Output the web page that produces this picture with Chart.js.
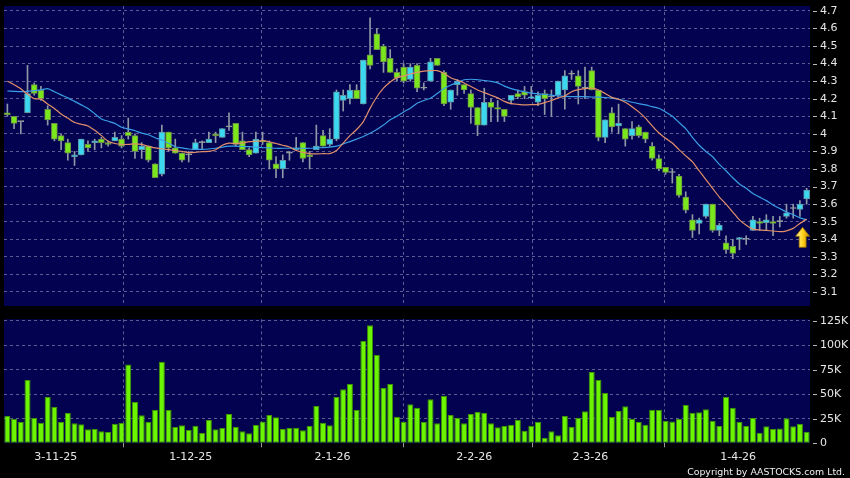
<!DOCTYPE html>
<html><head><meta charset="utf-8">
<script src="https://cdn.jsdelivr.net/npm/chart.js@4.4.1/dist/chart.umd.min.js"></script>
<style>
html,body{margin:0;padding:0;background:#000;width:850px;height:478px;overflow:hidden}
#wrap{position:relative;width:850px;height:478px;background:#000}
canvas{position:absolute;left:0}
#c1{top:0}
#c2{top:310px}
#copy{position:absolute;right:5px;top:465px;color:#f0f0f0;font:9.4px "DejaVu Sans",sans-serif;white-space:nowrap;line-height:13px}
</style></head><body>
<div id="wrap">
<canvas id="c2" width="850" height="168"></canvas>
<canvas id="c1" width="850" height="320"></canvas>
<div id="copy">Copyright by AASTOCKS.com Ltd.</div>
</div>
<script>
// ---- data ----
const openP = [4.12,4.10,4.07,4.12,4.28,4.25,4.14,4.06,3.99,3.95, 3.87,3.88,3.94,3.95,3.97,3.95,3.96,3.97,4.01,3.99,
 3.91,3.93,3.83,3.77,4.01,3.92,3.89,3.88,3.91,3.95, 3.95,4.00,3.98,4.04,4.06,3.96,3.91,3.89,3.96,3.95,
 3.83,3.80,3.89,3.91,3.95,3.88,3.91,3.99,3.94,3.97, 4.19,4.20,4.25,4.17,4.45,4.57,4.50,4.43,4.35,4.38,
 4.31,4.39,4.26,4.30,4.43,4.35,4.18,4.28,4.28,4.23, 4.15,4.05,4.18,4.15,4.14,4.19,4.23,4.24,4.205,4.18,
 4.23,4.21,4.22,4.25,4.34,4.33,4.26,4.36,4.25,3.98, 4.12,4.045,4.03,3.99,4.04,4.01,3.93,3.86,3.81,3.78,
 3.76,3.64,3.51,3.49,3.53,3.60,3.45,3.38,3.36,3.40, 3.40,3.45,3.50,3.495,3.50,3.50,3.53,3.575,3.57,3.63];
const highP = [4.17,4.10,4.07,4.39,4.29,4.27,4.16,4.06,4.00,3.97, 3.90,3.97,3.96,3.97,3.98,3.96,4.01,3.99,4.09,4.00,
 3.95,3.93,3.83,4.05,4.01,3.97,3.89,3.90,3.97,3.96, 4.01,4.01,4.03,4.12,4.06,4.01,3.92,4.01,4.01,3.96,
 3.87,3.88,3.90,3.98,3.95,3.90,4.05,4.02,4.03,4.25, 4.25,4.28,4.28,4.42,4.66,4.60,4.51,4.48,4.37,4.40,
 4.40,4.40,4.29,4.43,4.43,4.36,4.25,4.31,4.28,4.25, 4.15,4.26,4.20,4.19,4.14,4.22,4.25,4.27,4.27,4.24,
 4.25,4.25,4.30,4.36,4.36,4.36,4.38,4.38,4.25,4.08, 4.15,4.17,4.03,4.07,4.05,4.01,3.95,3.88,3.81,3.80,
 3.77,3.67,3.54,3.52,3.60,3.60,3.49,3.42,3.40,3.41, 3.42,3.53,3.52,3.54,3.53,3.53,3.60,3.60,3.62,3.69];
const lowP = [4.10,4.03,4.00,4.12,4.22,4.19,4.05,3.96,3.91,3.85, 3.82,3.88,3.90,3.91,3.92,3.93,3.96,3.92,3.97,3.86,
 3.86,3.84,3.75,3.76,3.90,3.89,3.84,3.84,3.91,3.91, 3.95,3.95,3.98,4.02,3.93,3.91,3.87,3.89,3.94,3.80,
 3.75,3.75,3.85,3.91,3.84,3.80,3.91,3.93,3.93,3.96, 4.13,4.17,4.20,4.17,4.37,4.48,4.35,4.35,4.30,4.29,
 4.30,4.24,4.25,4.30,4.39,4.16,4.14,4.22,4.23,4.06, 3.99,4.05,4.07,4.07,4.07,4.17,4.20,4.20,4.20,4.16,
 4.11,4.10,4.21,4.14,4.31,4.17,4.20,4.25,3.96,3.95, 4.01,4.00,3.93,3.97,3.98,3.95,3.85,3.79,3.77,3.72,
 3.64,3.55,3.41,3.43,3.52,3.44,3.42,3.32,3.29,3.34, 3.37,3.45,3.45,3.45,3.42,3.47,3.52,3.52,3.53,3.60];
const closeP = [4.11,4.06,4.07,4.23,4.23,4.20,4.08,3.97,3.96,3.89, 3.88,3.97,3.92,3.96,3.95,3.94,3.98,3.93,3.99,3.90,
 3.93,3.85,3.75,4.01,3.92,3.89,3.85,3.88,3.95,3.95, 3.97,3.99,4.03,4.04,3.94,3.91,3.88,3.97,3.955,3.85,
 3.80,3.85,3.89,3.92,3.86,3.87,3.93,3.93,3.97,4.24, 4.22,4.25,4.20,4.42,4.39,4.48,4.41,4.35,4.32,4.30,
 4.38,4.26,4.26,4.41,4.39,4.17,4.25,4.30,4.25,4.15, 4.05,4.18,4.15,4.14,4.10,4.22,4.21,4.22,4.21,4.22,
 4.20,4.21,4.30,4.33,4.34,4.27,4.26,4.25,3.98,4.08, 4.04,4.06,3.97,4.03,3.99,3.97,3.86,3.80,3.78,3.78,
 3.65,3.565,3.45,3.51,3.60,3.45,3.48,3.34,3.32,3.41, 3.40,3.51,3.49,3.51,3.49,3.50,3.55,3.575,3.60,3.68];
const maShort = [4.30,4.28,4.257,4.225,4.20,4.198,4.17,4.145,4.113,4.09, 4.065,4.055,4.045,4.02,3.99,3.958,3.945,3.94,3.94,3.943,
 3.94,3.93,3.92,3.915,3.91,3.905,3.90,3.893,3.895,3.899, 3.90,3.91,3.935,3.947,3.945,3.948,3.956,3.958,3.961,3.955,
 3.945,3.935,3.925,3.905,3.895,3.888,3.886,3.887,3.888,3.905, 3.947,3.99,4.025,4.07,4.145,4.21,4.26,4.295,4.32,4.33,
 4.341,4.35,4.357,4.36,4.36,4.345,4.32,4.305,4.29,4.27, 4.25,4.235,4.22,4.205,4.185,4.172,4.168,4.165,4.166,4.168,
 4.178,4.19,4.205,4.215,4.24,4.252,4.258,4.26,4.25,4.23, 4.208,4.197,4.18,4.155,4.125,4.09,4.045,4.005,3.975,3.948,
 3.91,3.875,3.84,3.79,3.74,3.69,3.64,3.60,3.555,3.51, 3.48,3.458,3.453,3.45,3.447,3.443,3.448,3.462,3.49,3.515];
const maLong = [4.244,4.242,4.24,4.242,4.246,4.25,4.258,4.24,4.222,4.205, 4.185,4.165,4.145,4.115,4.085,4.072,4.06,4.038,4.028,4.018,
 4.004,3.995,3.978,3.965,3.947,3.927,3.92,3.914,3.912,3.912, 3.914,3.918,3.925,3.93,3.93,3.928,3.927,3.925,3.922,3.92,
 3.918,3.918,3.918,3.918,3.918,3.918,3.92,3.922,3.925,3.93, 3.943,3.956,3.97,3.985,4.003,4.025,4.05,4.08,4.10,4.125,
 4.146,4.174,4.19,4.203,4.23,4.258,4.277,4.293,4.308,4.311, 4.308,4.304,4.299,4.29,4.272,4.258,4.248,4.24,4.232,4.228,
 4.224,4.221,4.216,4.213,4.212,4.212,4.212,4.21,4.209,4.207, 4.203,4.197,4.19,4.18,4.172,4.165,4.155,4.146,4.125,4.10,
 4.065,4.03,3.98,3.935,3.90,3.87,3.826,3.79,3.75,3.715, 3.69,3.66,3.64,3.62,3.595,3.575,3.555,3.54,3.522,3.51];
const volume = [27900,25200,21800,64600,25900,21100,47600,37100,21800,31000, 20400,19400,14300,14600,12200,11600,20100,20700,80600,42200,
 28600,21800,34000,83300,34000,16700,18400,13600,18000,10500, 23800,14300,15600,29900,17000,12200,10200,18700,22400,28900,
 26500,14600,15600,16000,13300,17700,38100,21100,18400,47300, 55100,60500,34000,104800,120700,90100,56500,60500,27200,22100,
 39800,36400,22000,44900,20400,48300,28900,26200,20400,29900, 32300,31300,20400,16300,17700,18700,23800,12900,18000,22100,
 5400,12200,8200,27900,17000,26200,32700,72800,64600,51400, 26900,33000,37800,25200,21800,19000,34400,34000,22800,22400,
 24800,39100,31300,31600,34700,23100,18000,47600,36400,21800, 17700,25900,10900,17300,14600,15000,25500,17300,19700,11900];
const dateLabels = ['3-11-25','1-12-25','2-1-26','2-2-26','2-3-26','1-4-26'];
const dateBarPos = [7.2, 27.3, 48.4, 69.5, 86.8, 108.8];
const priceTicks = [3.1,3.2,3.3,3.4,3.5,3.6,3.7,3.8,3.9,4.0,4.1,4.2,4.3,4.4,4.5,4.6,4.7];
const volumeTicks = [0,25000,50000,75000,100000,125000];
const signal = {index: 118.4, price: 3.468};

// ---- styles ----
const NAVY = '#020250', GRID = '#5c5c92', TXT = '#e6e6e6';
const UP = '#3bd8f0', DOWN = '#7ae61c', FLAT = '#9aa89a';
const FONT = {family: '"DejaVu Sans", sans-serif', size: 11, lineHeight: 1};

const n = openP.length;
const idx = openP.map((_, i) => i);
const bodyData = idx.map(i => ({x: i, y: [Math.min(openP[i], closeP[i]), Math.max(openP[i], closeP[i])]}));
const wickData = idx.map(i => ({x: i, y: [lowP[i], highP[i]]}));
const bodyColor = idx.map(i => closeP[i] > openP[i] ? UP : (closeP[i] < openP[i] ? DOWN : FLAT));
const bodyBorder = idx.map(i => closeP[i] > openP[i] ? '#5d97a4' : (closeP[i] < openP[i] ? '#6d8e48' : '#9aa0a0'));

const plotBg = {id: 'plotBg', beforeDraw(chart) {
  const {ctx, chartArea: a} = chart;
  ctx.save(); ctx.fillStyle = NAVY;
  ctx.fillRect(a.left, a.top, a.right - a.left, a.bottom - a.top);
  ctx.restore();
}};
const yTickMarks = {id: 'yTickMarks', afterDraw(chart) {
  const {ctx, chartArea: a} = chart; const s = chart.scales.y;
  ctx.save(); ctx.strokeStyle = '#b8b8b8'; ctx.lineWidth = 1;
  s.ticks.forEach(t => {
    const y = Math.round(s.getPixelForValue(t.value)) + 0.5;
    ctx.beginPath(); ctx.moveTo(a.right + 3, y); ctx.lineTo(a.right + 7, y); ctx.stroke();
  });
  ctx.restore();
}};
const arrowPlugin = {id: 'arrow', afterDatasetsDraw(chart) {
  const {ctx} = chart;
  const x = chart.scales.x.getPixelForValue(signal.index);
  const y = chart.scales.y.getPixelForValue(signal.price);
  ctx.save();
  const g = ctx.createLinearGradient(x - 7, 0, x + 7, 0);
  g.addColorStop(0, '#fff7a8'); g.addColorStop(0.5, '#ffd21e'); g.addColorStop(1, '#c98a00');
  ctx.beginPath();
  ctx.moveTo(x, y); ctx.lineTo(x + 7, y + 9); ctx.lineTo(x + 3.5, y + 9); ctx.lineTo(x + 3.5, y + 20);
  ctx.lineTo(x - 3.5, y + 20); ctx.lineTo(x - 3.5, y + 9); ctx.lineTo(x - 7, y + 9); ctx.closePath();
  ctx.fillStyle = g; ctx.fill();
  ctx.strokeStyle = '#9a7000'; ctx.lineWidth = 0.8; ctx.stroke();
  ctx.restore();
}};

const xBase = (withLabels) => ({
  type: 'linear', min: -0.5, max: n - 0.5, offset: false,
  afterBuildTicks: s => { s.ticks = dateBarPos.map(v => ({value: v})); },
  grid: {color: GRID, lineWidth: 1, drawTicks: withLabels, tickLength: 4,
         tickColor: '#9a9a9a', tickBorderDash: []},
  border: {display: false, dash: [3, 3]},
  ticks: {display: withLabels, autoSkip: false, maxRotation: 0, color: TXT, font: FONT, padding: 4,
          callback: (v, i) => dateLabels[i]},
  afterFit: s => { s.height = withLabels ? 34.7 : 0; }
});
const yBase = (extra) => Object.assign({
  position: 'right',
  grid: {color: GRID, drawTicks: true, tickLength: 10, tickColor: 'rgba(0,0,0,0)'},
  border: {display: false, dash: [3, 3]},
  afterFit: s => { s.width = 40; }
}, extra);

Chart.defaults.animation = false;

new Chart(document.getElementById('c1'), {
  type: 'bar',
  data: {datasets: [
    {type: 'line', label: 'MA short', data: idx.map(i => ({x: i, y: maShort[i]})), borderColor: '#e2906a',
     borderWidth: 1.2, pointRadius: 0, tension: 0.2, order: 0},
    {type: 'line', label: 'MA long', data: idx.map(i => ({x: i, y: maLong[i]})), borderColor: '#3a9ee6',
     borderWidth: 1.2, pointRadius: 0, tension: 0.2, order: 0},
    {label: 'body', data: bodyData, backgroundColor: bodyColor, borderColor: bodyBorder, borderWidth: 1,
     borderSkipped: false, barThickness: 6, minBarLength: 1, grouped: false, order: 1},
    {label: 'wick', data: wickData, backgroundColor: '#8e98a6', borderWidth: 0,
     barThickness: 1, grouped: false, order: 2}
  ]},
  options: {
    responsive: false, devicePixelRatio: 1, animation: false,
    layout: {padding: {left: 4, top: 6, right: 0, bottom: 14}},
    plugins: {legend: {display: false}, tooltip: {enabled: false}},
    scales: {
      x: xBase(false),
      y: yBase({min: 3.02, max: 4.728,
          afterBuildTicks: s => { s.ticks = priceTicks.map(v => ({value: v})); },
          ticks: {color: TXT, font: FONT, padding: 0, callback: v => String(Math.round(v * 10) / 10)}})
    }
  },
  plugins: [plotBg, yTickMarks, arrowPlugin]
});

new Chart(document.getElementById('c2'), {
  type: 'bar',
  data: {datasets: [
    {label: 'volume', data: idx.map(i => ({x: i, y: volume[i]})), backgroundColor: '#6cf500',
     borderColor: '#3f9400', borderWidth: 1, borderSkipped: false, barPercentage: 0.9, categoryPercentage: 1}
  ]},
  options: {
    responsive: false, devicePixelRatio: 1, animation: false,
    layout: {padding: {left: 4, top: 9.3, right: 0, bottom: 0}},
    plugins: {legend: {display: false}, tooltip: {enabled: false}},
    scales: {
      x: xBase(true),
      y: yBase({min: 0, max: 126700,
          afterBuildTicks: s => { s.ticks = volumeTicks.map(v => ({value: v})); },
          grid: {color: c => c.tick && c.tick.value === 0 ? 'rgba(0,0,0,0)' : GRID, drawTicks: true, tickLength: 10, tickColor: 'rgba(0,0,0,0)'},
          ticks: {color: TXT, font: FONT, padding: 0, callback: v => v === 0 ? '0' : (v / 1000) + 'K'}})
    }
  },
  plugins: [plotBg, yTickMarks]
});
</script>
</body></html>
